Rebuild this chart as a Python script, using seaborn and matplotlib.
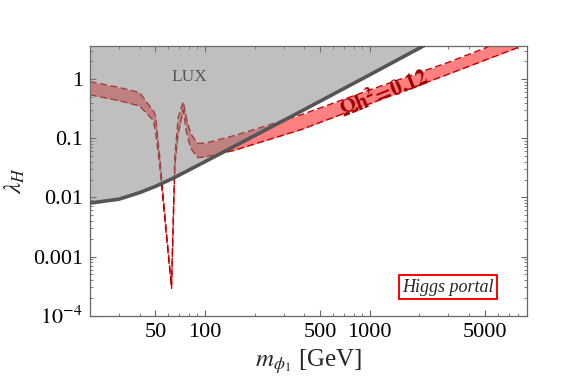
# Higgs portal: relic density band vs LUX exclusion
import numpy as np
import pandas as pd
import matplotlib
matplotlib.use("Agg")
import matplotlib.pyplot as plt
import seaborn as sns
from matplotlib.ticker import FixedLocator, LogLocator, NullFormatter

# ---- data ----
# relic density band (Omega h^2 = 0.12), upper and lower edge
m_band = [20, 30, 40, 48.5, 50, 53, 58, 62.6, 65.6, 68.7, 71, 73.8, 77, 81.7, 90,
          100, 150, 216, 380, 1000, 3000, 8000]
lam_upper = [0.90, 0.72, 0.59, 0.29, 0.24, 0.05, 0.003, 3.2e-4, 0.05, 0.22, 0.30, 0.41,
             0.22, 0.12, 0.082, 0.082, 0.11, 0.15, 0.245, 0.65, 1.9, 5.5]
lam_lower = [0.54, 0.43, 0.35, 0.20, 0.13, 0.035, 0.0025, 2.9e-4, 0.035, 0.12, 0.18, 0.30,
             0.13, 0.068, 0.047, 0.048, 0.062, 0.085, 0.138, 0.38, 1.2, 3.4]

# LUX bound
m_lux = [20, 30, 40, 50, 64, 100, 200, 380, 1000, 2200]
lam_lux = [0.008, 0.0093, 0.012, 0.0153, 0.021, 0.040, 0.11, 0.28, 1.17, 3.8]

x_ticks = [50, 100, 500, 1000, 5000]
x_ticklabels = ["50", "100", "500", "1000", "5000"]
y_ticks = [1e-4, 1e-3, 1e-2, 1e-1, 1]
y_ticklabels = ["$10^{-4}$", "0.001", "0.01", "0.1", "1"]

band = pd.DataFrame({"m": m_band, "upper": lam_upper, "lower": lam_lower})
lux = pd.DataFrame({"m": m_lux, "lam": lam_lux})

# ---- style ----
sns.set_theme(style="ticks")
plt.rcParams["font.family"] = ["Liberation Serif", "DejaVu Serif"]
plt.rcParams["mathtext.fontset"] = "stix"

fig = plt.figure(figsize=(5.73, 3.9), dpi=100)
ax = fig.add_axes([0.157, 0.1905, 0.762, 0.6915])

ymax = 3.6

# band fill
ax.fill_between(band["m"], band["lower"], band["upper"], color="#ff8080", lw=0, zorder=1)
for col in ["upper", "lower"]:
    sns.lineplot(data=band, x="m", y=col, ax=ax, color="#c00000", lw=1.0,
                 linestyle=(0, (5, 2.5)), zorder=2)

# LUX excluded region (semi transparent gray over the band)
ax.fill_between(lux["m"], lux["lam"], ymax, color="#808080", alpha=0.5, lw=0, zorder=3)
sns.lineplot(data=lux, x="m", y="lam", ax=ax, color="#555555", lw=2.6, zorder=4)

ax.set_xscale("log")
ax.set_yscale("log")
ax.set_xlim(20, 9000)
ax.set_ylim(1e-4, ymax)

ax.xaxis.set_major_locator(FixedLocator(x_ticks))
ax.set_xticklabels(x_ticklabels)
ax.xaxis.set_minor_locator(LogLocator(base=10, subs=np.arange(1, 10)))
ax.xaxis.set_minor_formatter(NullFormatter())
ax.yaxis.set_major_locator(FixedLocator(y_ticks))
ax.set_yticklabels(y_ticklabels)
ax.yaxis.set_minor_locator(LogLocator(base=10, subs=np.arange(1, 10)))
ax.yaxis.set_minor_formatter(NullFormatter())

ax.tick_params(which="both", direction="in", top=True, right=True, color="#666666",
               labelsize=16, labelcolor="black")
ax.tick_params(which="major", length=4, width=0.8, pad=5)
ax.tick_params(which="minor", length=2, width=0.6)
for s in ax.spines.values():
    s.set_color("#666666")
    s.set_linewidth(0.9)

ax.set_xlabel(r"$m_{\phi_1}$ [GeV]", fontsize=18, labelpad=4)
ax.set_ylabel(r"$\lambda_H$", fontsize=18, labelpad=4)

# annotations
ax.text(80, 1.06, "LUX", fontsize=12.5, color="#555555", ha="center", va="center", zorder=5)
ax.text(1220, 0.58, r"$\mathbf{\Omega h^2\!=\!0.12}$", fontsize=15.5, color="#a00000",
        rotation=22, ha="center", va="center", zorder=5)
ax.text(0.82, 0.105, "Higgs portal", transform=ax.transAxes, fontsize=13,
        style="italic", ha="center", va="center", zorder=5,
        bbox=dict(boxstyle="square,pad=0.2", fc="white", ec="red", lw=1.4))

fig.savefig("out.png", dpi=100)
